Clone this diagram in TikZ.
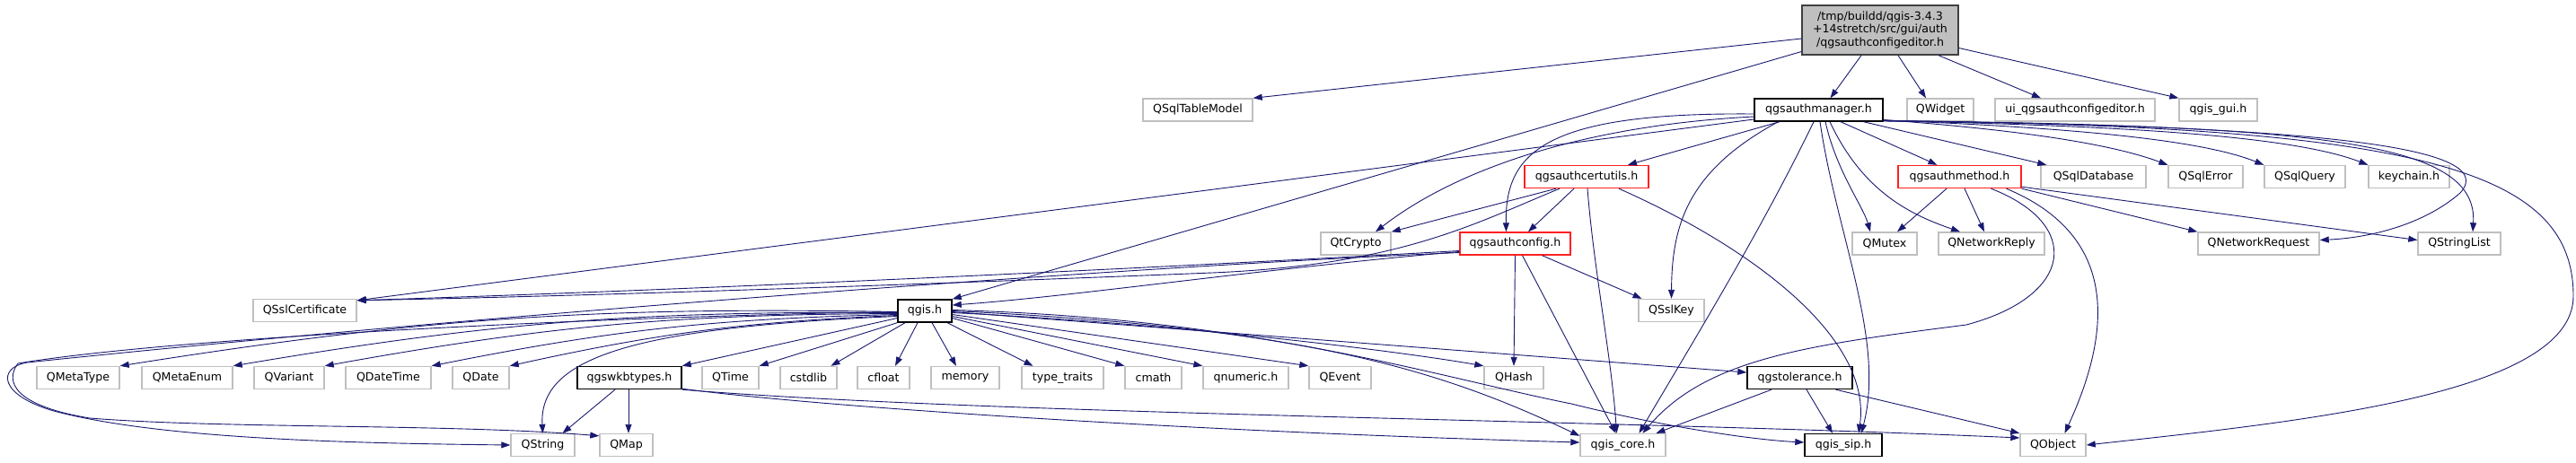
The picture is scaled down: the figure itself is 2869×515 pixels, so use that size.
\documentclass[tikz,border=0pt]{standalone}
\usepackage{fontspec}
\setmainfont{DejaVu Sans}
\usetikzlibrary{arrows.meta}
\definecolor{edgec}{HTML}{191970}
\definecolor{gborder}{HTML}{BFBFBF}
\definecolor{rootfill}{HTML}{BFBFBF}
\definecolor{rootb}{HTML}{404040}
\definecolor{redb}{HTML}{FF2020}
\tikzset{
  nb/.style={draw=#1, line width=1.4pt, fill=white, rectangle, inner sep=0pt, minimum height=25pt, font=\fontsize{12.6}{14.5}\selectfont},
  gnode/.style={nb=gborder},
  bnode/.style={nb=black},
  rnode/.style={nb=redb},
  dep/.style={draw=edgec, line width=0.9pt, -{Triangle[length=10pt,width=7pt]}},
}
\begin{document}
\begin{tikzpicture}[x=1pt,y=-1pt]
\useasboundingbox[fill=white] (0,0) rectangle (2869,515);
% nodes
\node[nb=rootb, fill=rootfill, minimum width=174pt, minimum height=55pt, align=center] (root) at (2094,33.5) {/tmp/buildd/qgis-3.4.3\\+14stretch/src/gui/auth\\/qgsauthconfigeditor.h};
\node[gnode, minimum width=122pt] (sqltm) at (1334,122.5) {QSqlTableModel};
\node[bnode, minimum width=143pt] (mgr) at (2025.5,122.5) {qgsauthmanager.h};
\node[gnode, minimum width=74pt] (wid) at (2161,122.5) {QWidget};
\node[gnode, minimum width=178pt] (uiced) at (2311,122.5) {ui\_qgsauthconfigeditor.h};
\node[gnode, minimum width=87pt] (gui) at (2470.5,122.5) {qgis\_gui.h};
\node[rnode, minimum width=138pt] (cert) at (1767,197) {qgsauthcertutils.h};
\node[rnode, minimum width=137pt] (meth) at (2182.5,197) {qgsauthmethod.h};
\node[gnode, minimum width=117pt] (sqldb) at (2331.5,197) {QSqlDatabase};
\node[gnode, minimum width=83pt] (sqlerr) at (2456.5,197) {QSqlError};
\node[gnode, minimum width=90pt] (sqlq) at (2567,197) {QSqlQuery};
\node[gnode, minimum width=90pt] (keych) at (2683,197) {keychain.h};
\node[gnode, minimum width=78pt] (qca) at (1510,271.5) {QtCrypto};
\node[rnode, minimum width=123pt] (cfg) at (1687.5,271.5) {qgsauthconfig.h};
\node[gnode, minimum width=72pt] (mutex) at (2099,271.5) {QMutex};
\node[gnode, minimum width=118pt] (nreply) at (2218,271.5) {QNetworkReply};
\node[gnode, minimum width=135pt] (nreq) at (2515.5,271.5) {QNetworkRequest};
\node[gnode, minimum width=92pt] (slist) at (2739,271.5) {QStringList};
\node[gnode, minimum width=115pt] (sslcert) at (339.5,346) {QSslCertificate};
\node[bnode, minimum width=60pt] (qgis) at (1030,346.5) {qgis.h};
\node[gnode, minimum width=73pt] (sslkey) at (1861.5,346) {QSslKey};
\node[gnode, minimum width=92pt] (mtype) at (87,421) {QMetaType};
\node[gnode, minimum width=101pt] (menum) at (208.5,421) {QMetaEnum};
\node[gnode, minimum width=78pt] (variant) at (322,421) {QVariant};
\node[gnode, minimum width=95pt] (dtime) at (432.5,421) {QDateTime};
\node[gnode, minimum width=63pt] (date) at (535.5,421) {QDate};
\node[bnode, minimum width=116pt] (wkb) at (701,421) {qgswkbtypes.h};
\node[gnode, minimum width=63pt] (time) at (813.5,421) {QTime};
\node[gnode, minimum width=63pt] (cstd) at (900.5,421) {cstdlib};
\node[gnode, minimum width=58pt] (cflt) at (984,421) {cfloat};
\node[gnode, minimum width=76pt] (mem) at (1075,421) {memory};
\node[gnode, minimum width=91pt] (ttraits) at (1183.5,421) {type\_traits};
\node[gnode, minimum width=63pt] (cmath) at (1284.5,421) {cmath};
\node[gnode, minimum width=95pt] (qnum) at (1387.5,421) {qnumeric.h};
\node[gnode, minimum width=69pt] (qevent) at (1492.5,421) {QEvent};
\node[gnode, minimum width=66pt] (qhash) at (1686,421) {QHash};
\node[bnode, minimum width=117pt] (tol) at (2004.5,421) {qgstolerance.h};
\node[gnode, minimum width=71pt] (qstr) at (604.5,496) {QString};
\node[gnode, minimum width=59pt] (qmap) at (697.5,496) {QMap};
\node[gnode, minimum width=95pt] (core) at (1807.5,496) {qgis\_core.h};
\node[bnode, minimum width=86pt] (sip) at (2053,496) {qgis\_sip.h};
\node[gnode, minimum width=73pt] (qobj) at (2286.5,496) {QObject};
% root edges
\draw[dep] ([yshift=-9.5pt]root.west) -- (sqltm.north east);
\draw[dep] ([yshift=-24pt]root.west) -- (qgis.north east);
\draw[dep] ([xshift=-21pt]root.south) -- ([xshift=13pt]mgr.north);
\draw[dep] ([xshift=20pt]root.south) -- ([xshift=-16pt]wid.north);
\draw[dep] ([xshift=65pt]root.south) -- ([xshift=-38pt]uiced.north);
\draw[dep] ([yshift=-20pt]root.east) -- (gui.north west);
% manager edges
\draw[dep] ([yshift=-4.5pt]mgr.west) .. controls (1720,125) and (1676,170) .. ([xshift=-10pt]cfg.north);
\draw[dep] ([yshift=-7.5pt]mgr.west) .. controls (1760,140) and (1620,190) .. ([xshift=22pt]qca.north);
\draw[dep] ([yshift=-10.5pt]mgr.west) -- ([yshift=-2pt]sslcert.north east);
\draw[dep] ([xshift=-43.5pt]mgr.south) -- ([xshift=46pt]cert.north);
\draw[dep] ([xshift=-45pt]mgr.south) .. controls (1880,190) and (1862,250) .. (sslkey.north);
\draw[dep] ([xshift=-5.5pt]mgr.south) .. controls (1960,260) and (1880,390) .. ([xshift=18pt]core.north);
\draw[dep] ([xshift=1.5pt]mgr.south) .. controls (2045,260) and (2100,380) .. ([xshift=20pt]sip.north);
\draw[dep] ([xshift=7.5pt]mgr.south) .. controls (2045,190) and (2075,230) .. ([xshift=-16pt]mutex.north);
\draw[dep] ([xshift=12.5pt]mgr.south) .. controls (2075,215) and (2130,240) .. ([xshift=-35pt]nreply.north);
\draw[dep] ([xshift=24.5pt]mgr.south) -- ([xshift=-25pt]meth.north);
\draw[dep] ([xshift=50pt]mgr.south) -- ([xshift=7pt]sqldb.north west);
\draw[dep] ([yshift=-11pt]mgr.east) .. controls (2250,145) and (2350,160) .. (sqlerr.north west);
\draw[dep] ([yshift=-11.5pt]mgr.east) .. controls (2300,142) and (2450,155) .. (sqlq.north west);
\draw[dep] ([yshift=-12pt]mgr.east) .. controls (2350,140) and (2550,150) .. (keych.north west);
\draw[dep] ([yshift=-12pt]mgr.east) .. controls (2550,140) and (2790,160) .. (2740,215) .. controls (2700,250) and (2640,265) .. ([yshift=4pt]nreq.east);
\draw[dep] ([yshift=-12pt]mgr.east) .. controls (2600,140) and (2760,160) .. ([xshift=15pt]slist.north);
\draw[dep] ([yshift=-12.5pt]mgr.east) .. controls (2700,140) and (2866,190) .. (2866,330) .. controls (2866,440) and (2560,470) .. (qobj.east);
% certutils edges
\draw[dep] ([xshift=-34pt]cert.south) -- (qca.north east);
\draw[dep] ([xshift=-30pt]cert.south) .. controls (1640,250) and (1560,295) .. (1350,304) .. controls (1000,318) and (650,330) .. ([yshift=-2pt]sslcert.north east);
\draw[dep] ([xshift=-14pt]cert.south) -- ([xshift=14.5pt]cfg.north);
\draw[dep] ([xshift=1pt]cert.south) .. controls (1775,300) and (1795,400) .. ([xshift=-7pt]core.north);
\draw[dep] ([xshift=36pt]cert.south) .. controls (1960,280) and (2085,380) .. ([xshift=17pt]sip.north);
% config edges
\draw[dep] ([yshift=-8pt]cfg.west) .. controls (1300,298) and (800,322) .. ([yshift=-2pt]sslcert.north east);
\draw[dep] ([yshift=-9pt]cfg.west) .. controls (1400,300) and (1200,330) .. ([yshift=6.5pt]qgis.east);
\draw[dep] ([yshift=-10pt]cfg.west) .. controls (1200,300) and (500,355) .. (30,404) .. controls (-3,410) and (-2,440) .. (60,458) .. controls (180,490) and (400,494) .. (qstr.west);
\draw[dep] ([xshift=30pt]cfg.south) -- ([xshift=-33pt]sslkey.north);
\draw[dep] (cfg.south) -- (qhash.north);
\draw[dep] ([xshift=8pt]cfg.south) -- ([xshift=-8pt]core.north);
% qgis.h edges
\draw[dep] ([yshift=-1pt]qgis.west) to[bend right=5] (mtype.north east);
\draw[dep] ([yshift=-2pt]qgis.west) to[bend right=5] (menum.north east);
\draw[dep] ([yshift=-3pt]qgis.west) to[bend right=5] (variant.north east);
\draw[dep] ([yshift=-4pt]qgis.west) to[bend right=5] (dtime.north east);
\draw[dep] ([yshift=-5pt]qgis.west) to[bend right=5] (date.north east);
\draw[dep] ([yshift=-6pt]qgis.west) .. controls (700,365) and (600,400) .. (qstr.north);
\draw[dep] ([yshift=-1pt]qgis.west) .. controls (700,352) and (200,375) .. (20,405) .. controls (5,425) and (15,452) .. (100,466) .. controls (250,478) and (500,472) .. ([yshift=-3pt]qmap.north west);
\draw[dep] ([yshift=-8pt]qgis.west) -- (wkb.north east);
\draw[dep] (qgis.south west) -- (time.north east);
\draw[dep] ([xshift=-22pt]qgis.south) -- ([xshift=25pt]cstd.north);
\draw[dep] ([xshift=-8pt]qgis.south) -- ([xshift=13pt]cflt.north);
\draw[dep] ([xshift=8pt]qgis.south) -- ([xshift=-10pt]mem.north);
\draw[dep] ([xshift=25pt]qgis.south) -- ([xshift=-33pt]ttraits.north);
\draw[dep] ([yshift=-8pt]qgis.east) -- (cmath.north west);
\draw[dep] ([yshift=-6pt]qgis.east) -- (qnum.north west);
\draw[dep] ([yshift=-4pt]qgis.east) -- (qevent.north west);
\draw[dep] ([yshift=-2pt]qgis.east) .. controls (1300,360) and (1550,390) .. (qhash.north west);
\draw[dep] ([yshift=-1pt]qgis.east) -- ([yshift=6pt]tol.west);
\draw[dep] (qgis.east) .. controls (1450,365) and (1600,410) .. ([yshift=-3pt]core.north west);
\draw[dep] ([yshift=1pt]qgis.east) .. controls (1400,355) and (1600,420) .. (1750,450) .. controls (1850,475) and (1950,490) .. ([yshift=3pt]sip.west);
% qgswkbtypes edges
\draw[dep] ([xshift=-16pt]wkb.south) -- ([xshift=22pt]qstr.north);
\draw[dep] ([xshift=-1pt]wkb.south) -- ([xshift=2.5pt]qmap.north);
\draw[dep] ([yshift=1pt]wkb.south east) .. controls (900,452) and (1300,480) .. ([yshift=3pt]core.west);
\draw[dep] (wkb.south east) .. controls (1100,462) and (1800,468) .. ([yshift=8pt]qobj.west);
% qgstolerance edges
\draw[dep] ([xshift=-31.5pt]tol.south) -- ([xshift=37pt]core.north);
\draw[dep] ([xshift=7.5pt]tol.south) -- ([xshift=-12pt]sip.north);
\draw[dep] ([xshift=40pt]tol.south) -- (qobj.north west);
% qgsauthmethod edges
\draw[dep] ([xshift=-14.5pt]meth.south) -- ([xshift=14pt]mutex.north);
\draw[dep] ([xshift=5.5pt]meth.south) -- ([xshift=-8pt]nreply.north);
\draw[dep] ([xshift=35pt]meth.south) .. controls (2320,250) and (2310,330) .. (2190,362) .. controls (2010,385) and (1900,400) .. ([xshift=22pt]core.north);
\draw[dep] ([xshift=52pt]meth.south) .. controls (2330,250) and (2370,330) .. ([xshift=13pt]qobj.north);
\draw[dep] (meth.south east) -- (nreq.north west);
\draw[dep] ([yshift=2pt]meth.south east) -- ([yshift=4pt]slist.west);
\end{tikzpicture}
\end{document}
